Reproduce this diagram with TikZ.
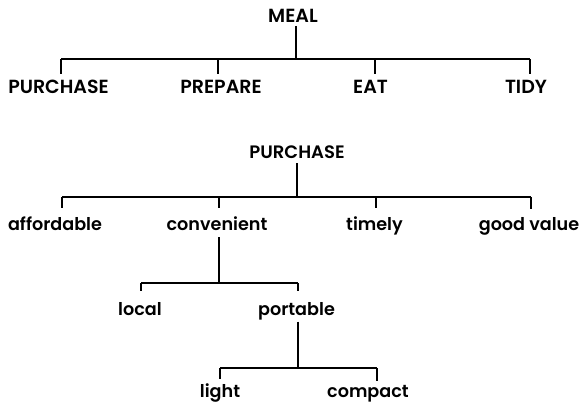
\documentclass[tikz,border=0pt]{standalone}
\usepackage{fontspec}
\setmainfont{Poppins}[UprightFont=* SemiBold]
\begin{document}
\begin{tikzpicture}[x=1pt,y=-1pt,
  line width=1.9pt,
  lbl/.style={inner sep=0pt,anchor=base},
  capA/.style={lbl,font=\fontsize{19}{20}\selectfont},
  capB/.style={lbl,font=\fontsize{18}{20}\selectfont},
  low/.style={lbl,font=\fontsize{17.6}{20}\selectfont}]
\useasboundingbox (0,0) rectangle (583,405);

% ---- first tree: MEAL ----
\node[capA] (meal) at (293,22) {MEAL};
\node[capA] (m1) at (58.5,93) {PURCHASE};
\node[capA] (m2) at (221,93) {PREPARE};
\node[capA] (m3) at (370.5,93) {EAT};
\node[capA] (m4) at (526,93) {TIDY};
\coordinate (mj) at (296,59);
\coordinate (mt1) at (61,59);
\coordinate (mt2) at (218,59);
\coordinate (mt3) at (375,59);
\coordinate (mt4) at (530,59);
\draw ([yshift=-3pt]mj |- meal.south) -- (mj);
\draw (mt1) -- (mt4);
\foreach \i in {1,...,4} \draw (mt\i) -- ([yshift=5pt]mt\i |- m\i.north);

% ---- second tree: PURCHASE ----
\node[capB] (pur) at (297,158) {PURCHASE};
\node[low] (afford) at (55,230) {affordable};
\node[low] (conv) at (217,230) {convenient};
\node[low] (timely) at (374.5,230) {timely};
\node[low] (good) at (529,230) {good value};
\coordinate (pj) at (297,197);
\coordinate (pt1) at (62,197);
\coordinate (pt2) at (219,197);
\coordinate (pt3) at (376,197);
\coordinate (pt4) at (531,197);
\draw ([yshift=-4pt]pj |- pur.south) -- (pj);
\draw (pt1) -- (pt4);
\draw (pt1) -- ([yshift=7pt]pt1 |- afford.north);
\draw (pt2) -- ([yshift=7pt]pt2 |- conv.north);
\draw (pt3) -- ([yshift=7pt]pt3 |- timely.north);
\draw (pt4) -- ([yshift=7pt]pt4 |- good.north);

% convenient -> local, portable
\node[low] (local) at (140,315) {local};
\node[low] (port) at (296.5,315) {portable};
\coordinate (cj) at (219,283);
\coordinate (ct1) at (141,283);
\coordinate (ct2) at (298,283);
\draw ([yshift=-6pt]cj |- conv.south) -- (cj);
\draw (ct1) -- (ct2);
\draw (ct1) -- ([yshift=10pt]ct1 |- local.north);
\draw (ct2) -- ([yshift=10pt]ct2 |- port.north);

% portable -> light, compact
\node[low] (light) at (220,397) {light};
\node[low] (compact) at (368,397) {compact};
\coordinate (qj) at (298,368);
\coordinate (qt1) at (220,368);
\coordinate (qt2) at (377,368);
\draw ([yshift=-1pt]qj |- port.south) -- (qj);
\draw (qt1) -- (qt2);
\draw (qt1) -- ([yshift=3pt]qt1 |- light.north);
\draw (qt2) -- ([yshift=3pt]qt2 |- compact.north);
\end{tikzpicture}
\end{document}
